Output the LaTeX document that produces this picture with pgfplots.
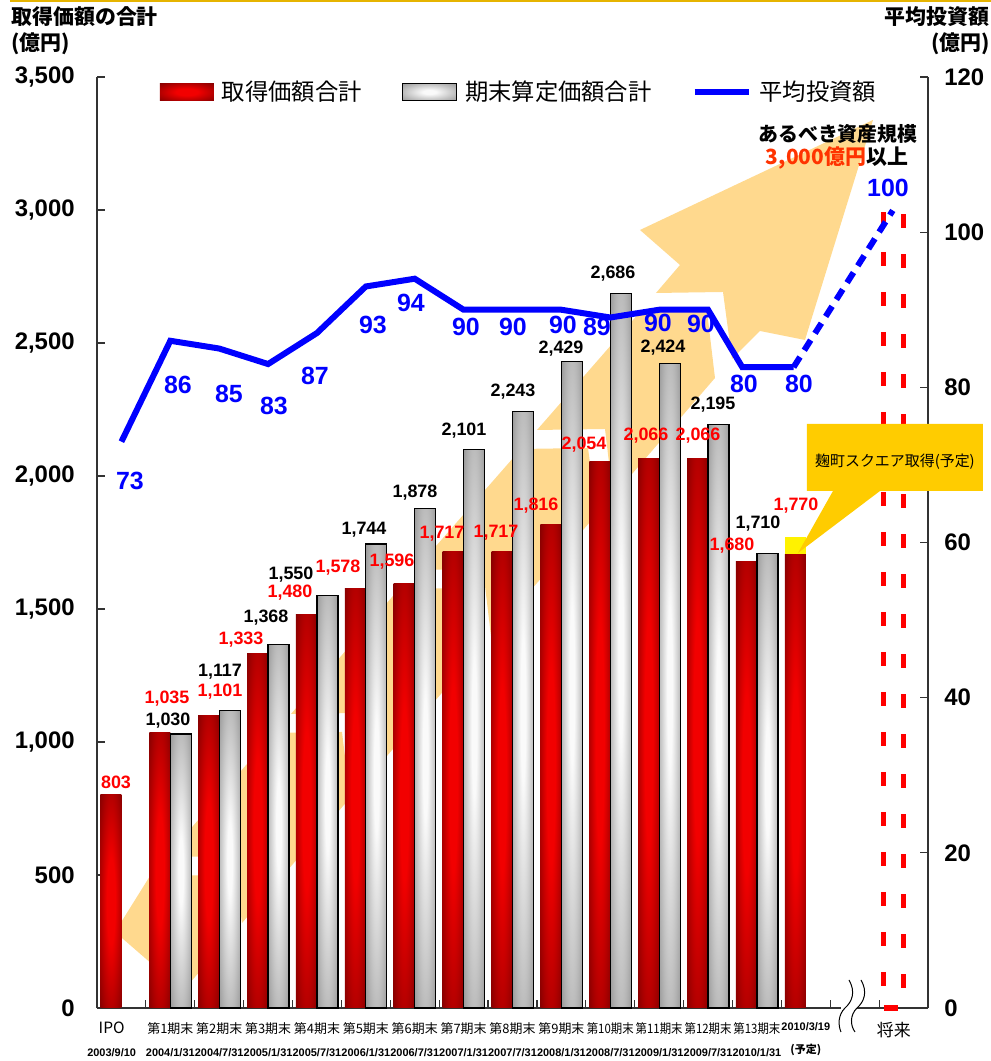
\documentclass[border=0pt]{standalone}
\usepackage{pgfplots}
\pgfplotsset{compat=1.18}
\usepackage{fontspec}
\usepackage{graphicx}
\setmainfont{Liberation Sans}
\newfontfamily\cjk{Noto Sans CJK JP}
\definecolor{rbright}{RGB}{242,0,0}
\definecolor{rdark}{RGB}{118,0,0}
\definecolor{gbright}{RGB}{250,250,250}
\definecolor{gdark}{RGB}{145,145,145}
\definecolor{peach}{RGB}{255,217,142}
\definecolor{callout}{RGB}{255,204,0}
\definecolor{goldline}{RGB}{230,180,0}
\definecolor{orangered}{RGB}{255,51,0}
\pgfdeclareradialshading{redbar}{\pgfpointorigin}{color(0bp)=(rbright); color(10bp)=(rbright); color(40bp)=(rdark); color(50bp)=(rdark)}
\pgfdeclareradialshading{graybar}{\pgfpointorigin}{color(0bp)=(gbright); color(6bp)=(gbright); color(38bp)=(gdark); color(50bp)=(gdark)}
\pgfplotsset{
  boxlegend/.style={legend image code/.code={\path[##1] (0bp,-4.25bp) rectangle (27bp,4.25bp);}},
  linelegend/.style={legend image code/.code={\draw[##1] (0bp,0bp) -- (27bp,0bp);}},
  redb/.style={ybar, bar width=10.5bp, bar shift=-5.25bp, draw=none, shade, shading=redbar, boxlegend},
  grayb/.style={ybar, bar width=10.5bp, bar shift=5.25bp, draw=black, line width=0.6bp, shade, shading=graybar, boxlegend},
}
\newcommand\datefont{\rmfamily\bfseries\fontsize{5.5}{5.5}\selectfont}
\newcommand\yotei{\cjk\bfseries\fontsize{5.5}{5.5}\selectfont}
\begin{document}
\begin{tikzpicture}
\path[use as bounding box] (0,0) rectangle (495.5bp,530.5bp);
% decorative background arrow (pixel coordinates)
\begin{scope}[x=0.5bp,y=-0.5bp,yshift=530.5bp]
\fill[peach] (873,120) -- (640,230) -- (680,265) -- (656,293) -- (723,292) -- (732,359) -- (760,331) -- (805,340) -- cycle;
\fill[peach] (707,311) -- (640,312) -- (537,430) -- (605,429) -- (613,496) -- (715,378) -- cycle;
\fill[peach] (588,448) -- (521,449) -- (415,570) -- (483,569) -- (491,636) -- (597,514) -- cycle;
\fill[peach] (466,588) -- (399,589) -- (291,714) -- (358,713) -- (366,780) -- (475,655) -- cycle;
\fill[peach] (342,732) -- (274,733) -- (166,857) -- (233,856) -- (242,923) -- (350,798) -- cycle;
\fill[peach] (217,875) -- (150,876) -- (115,932) -- (183,991) -- (225,942) -- cycle;
\draw[goldline, line width=1bp] (10,1) -- (991,1);
\end{scope}

\begin{axis}[
  at={(48.5bp,26.5bp)}, anchor=south west,
  scale only axis, width=415.5bp, height=465.5bp,
  xmin=-0.5, xmax=16.5, ymin=0, ymax=3500,
  axis y line*=left, axis x line*=bottom,
  axis line style={black!80, line width=0.6bp, -},
  x axis line style={-}, y axis line style={-},
  tick align=inside,
  tick style={black!80, line width=0.6bp},
  major tick length=4bp,
  ytick={0,500,1000,1500,2000,2500,3000,3500},
  yticklabel style={font=\bfseries\fontsize{12}{12}\selectfont, anchor=east, inner sep=0pt, xshift=-11bp},
  /pgf/number format/assume math mode=true,
  /pgf/number format/1000 sep={,},
  scaled y ticks=false,
  xtick={0.5,1.5,...,15.5},
  xticklabels={},
  extra x ticks={-0.2,1,2,3,4,5,6,7,8,9,10,11,12,13,14,15.8},
  extra x tick labels={
    {{\fontsize{7.8}{11.5}\selectfont IPO}\\{\datefont 2003/9/10}},
    {第1期末\\{\datefont 2004/1/31}},
    {第2期末\\{\datefont 2004/7/31}},
    {第3期末\\{\datefont 2005/1/31}},
    {第4期末\\{\datefont 2005/7/31}},
    {第5期末\\{\datefont 2006/1/31}},
    {第6期末\\{\datefont 2006/7/31}},
    {第7期末\\{\datefont 2007/1/31}},
    {第8期末\\{\datefont 2007/7/31}},
    {第9期末\\{\datefont 2008/1/31}},
    {\scalebox{0.88}[1]{第10期末}\\{\datefont 2008/7/31}},
    {\scalebox{0.88}[1]{第11期末}\\{\datefont 2009/1/31}},
    {\scalebox{0.88}[1]{第12期末}\\{\datefont 2009/7/31}},
    {\scalebox{0.88}[1]{第13期末}\\{\datefont 2010/1/31}},
    {{\datefont 2010/3/19}\\{\yotei (予定)}},
    {{\fontsize{8.5}{11.5}\selectfont 将来}\\{}}
  },
  extra x tick style={tick style={draw=none},
    xticklabel style={font=\cjk\fontsize{6.5}{11.5}\selectfont, align=center, anchor=north, inner sep=0pt, yshift=-7bp}},
  clip=false,
  legend columns=3,
  legend style={at={(axis description cs:0.0758,0.9839)}, anchor=west,
    draw=none, fill=none, inner sep=0pt, outer sep=0pt,
    font=\cjk\fontsize{11.7}{12}\selectfont,
    nodes={inner sep=0pt},
    /tikz/every odd column/.style={column sep=4bp},
    /tikz/every even column/.style={column sep=20bp}},
  legend cell align=left,
]
% 取得価額合計 (one bar per plot so each bar is shaded on its own)
\addplot[redb] coordinates {(0,803)};
\addlegendentry{取得価額合計}
\addplot[redb, forget plot] coordinates {(1,1035)};
\addplot[redb, forget plot] coordinates {(2,1101)};
\addplot[redb, forget plot] coordinates {(3,1333)};
\addplot[redb, forget plot] coordinates {(4,1480)};
\addplot[redb, forget plot] coordinates {(5,1578)};
\addplot[redb, forget plot] coordinates {(6,1596)};
\addplot[redb, forget plot] coordinates {(7,1717)};
\addplot[redb, forget plot] coordinates {(8,1717)};
\addplot[redb, forget plot] coordinates {(9,1816)};
\addplot[redb, forget plot] coordinates {(10,2054)};
\addplot[redb, forget plot] coordinates {(11,2066)};
\addplot[redb, forget plot] coordinates {(12,2066)};
\addplot[redb, forget plot] coordinates {(13,1680)};
\addplot[ybar, bar width=10.5bp, bar shift=-5.25bp, fill=yellow, draw=none, forget plot] coordinates {(14,1770)};
\addplot[redb, forget plot] coordinates {(14,1705)};
% 期末算定価額合計
\addplot[grayb] coordinates {(1,1030)};
\addlegendentry{期末算定価額合計}
\addplot[grayb, forget plot] coordinates {(2,1117)};
\addplot[grayb, forget plot] coordinates {(3,1368)};
\addplot[grayb, forget plot] coordinates {(4,1550)};
\addplot[grayb, forget plot] coordinates {(5,1744)};
\addplot[grayb, forget plot] coordinates {(6,1878)};
\addplot[grayb, forget plot] coordinates {(7,2101)};
\addplot[grayb, forget plot] coordinates {(8,2243)};
\addplot[grayb, forget plot] coordinates {(9,2429)};
\addplot[grayb, forget plot] coordinates {(10,2686)};
\addplot[grayb, forget plot] coordinates {(11,2424)};
\addplot[grayb, forget plot] coordinates {(12,2195)};
\addplot[grayb, forget plot] coordinates {(13,1710)};
% future target (dashed outline)
\addplot[ybar, bar width=10bp, bar shift=0pt, draw=red, fill=none, line width=2.5bp, dash pattern=on 7bp off 13bp, forget plot]
  coordinates {(15.8,3000)};
\addlegendimage{blue, line width=3bp, linelegend}
\addlegendentry{平均投資額}
\end{axis}

\begin{axis}[
  at={(48.5bp,26.5bp)}, anchor=south west,
  scale only axis, width=415.5bp, height=465.5bp,
  xmin=-0.5, xmax=16.5, ymin=0, ymax=120,
  axis y line*=right, axis x line=none,
  axis line style={black!80, line width=0.6bp, -},
  y axis line style={-},
  tick align=inside,
  tick style={black!80, line width=0.6bp},
  major tick length=4bp,
  ytick={0,20,40,60,80,100,120},
  yticklabel style={font=\bfseries\fontsize{12}{12}\selectfont, anchor=west, inner sep=0pt, xshift=8bp},
  /pgf/number format/assume math mode=true,
  clip=false,
]
\addplot[blue, line width=3bp, mark=none]
  coordinates {(0,73)(1,86)(2,85)(3,83)(4,87)(5,93)(6,94)(7,90)(8,90)(9,90)(10,89)(11,90)(12,90)(12.7,82.6)(13.75,82.6)};
\addplot[blue, line width=3bp, mark=none, dash pattern=on 6bp off 4bp]
  coordinates {(13.75,82.6)(15.78,102.8)};
\end{axis}

% annotations (pixel coordinates)
\begin{scope}[x=0.5bp,y=-0.5bp,yshift=530.5bp]
% break marks
\fill[white] (841,1003) rectangle (857,1011);
\draw[black, line width=0.5bp] (849,980) .. controls (856,992) and (852,1002) .. (845,1008) .. controls (838,1015) and (838,1025) .. (841,1032);
\draw[black, line width=0.5bp] (861,980) .. controls (868,992) and (864,1002) .. (857,1008) .. controls (850,1015) and (850,1025) .. (855,1032);
% callout
\fill[callout] (807,424) -- (983,424) -- (983,491) -- (880,491) -- (798,553) -- (833,491) -- (807,491) -- cycle;
\node[font=\cjk\fontsize{7.5}{8}\selectfont, inner sep=0pt] at (895,462) {麹町スクエア取得(予定)};
% titles
\node[font=\cjk\bfseries\fontsize{10.5}{11}\selectfont, anchor=west, inner sep=0pt] at (11,17) {取得価額の合計};
\node[font=\cjk\bfseries\fontsize{10.5}{11}\selectfont, anchor=west, inner sep=0pt] at (11,44) {(億円)};
\node[font=\cjk\bfseries\fontsize{10.5}{11}\selectfont, anchor=east, inner sep=0pt] at (990,17) {平均投資額};
\node[font=\cjk\bfseries\fontsize{10.5}{11}\selectfont, anchor=east, inner sep=0pt] at (990,44) {(億円)};
\node[font=\cjk\bfseries\fontsize{10}{11}\selectfont, inner sep=0pt] at (838,134) {あるべき資産規模};
\node[font=\cjk\bfseries\fontsize{10.5}{11}\selectfont, inner sep=0pt] at (837,158) {\textcolor{orangered}{3,000億円}以上};
% blue labels
\begin{scope}[every node/.style={font=\bfseries\fontsize{12.5}{13}\selectfont, text=blue, inner sep=0pt}]
\node at (130,481) {73}; \node at (178,385) {86}; \node at (229,394) {85};
\node at (274,406) {83}; \node at (315,376) {87}; \node at (373,325) {93};
\node at (411,303) {94}; \node at (466,327) {90}; \node at (513,327) {90};
\node at (563,325) {90}; \node at (597,327) {89}; \node at (658,323) {90};
\node at (701,324) {90}; \node at (744,384) {80}; \node at (799,384) {80};
\node at (888,188) {100};
\end{scope}
% red labels
\begin{scope}[every node/.style={font=\bfseries\fontsize{9}{10}\selectfont, text=red, inner sep=0pt}]
\node at (116,782) {803}; \node at (167,699) {1,035}; \node at (220,692) {1,101};
\node at (241,640) {1,333}; \node at (290,593) {1,480}; \node at (338,568) {1,578};
\node at (392,562) {1,596}; \node at (442,534) {1,717}; \node at (496,533) {1,717};
\node at (536,506) {1,816}; \node at (584,445) {2,054}; \node at (646,436) {2,066};
\node at (698,436) {2,066}; \node at (732,546) {1,680}; \node at (796,506) {1,770};
\end{scope}
% black labels
\begin{scope}[every node/.style={font=\bfseries\fontsize{9}{10}\selectfont, text=black, inner sep=0pt}]
\node at (168,721) {1,030}; \node at (220,672) {1,117}; \node at (266,618) {1,368};
\node at (291,575) {1,550}; \node at (364,530) {1,744}; \node at (415,493) {1,878};
\node at (464,431) {2,101}; \node at (513,392) {2,243}; \node at (561,349) {2,429};
\node at (613,274) {2,686}; \node at (663,348) {2,424}; \node at (713,405) {2,195};
\node at (758,524) {1,710};
\end{scope}
\end{scope}
\end{tikzpicture}
\end{document}
